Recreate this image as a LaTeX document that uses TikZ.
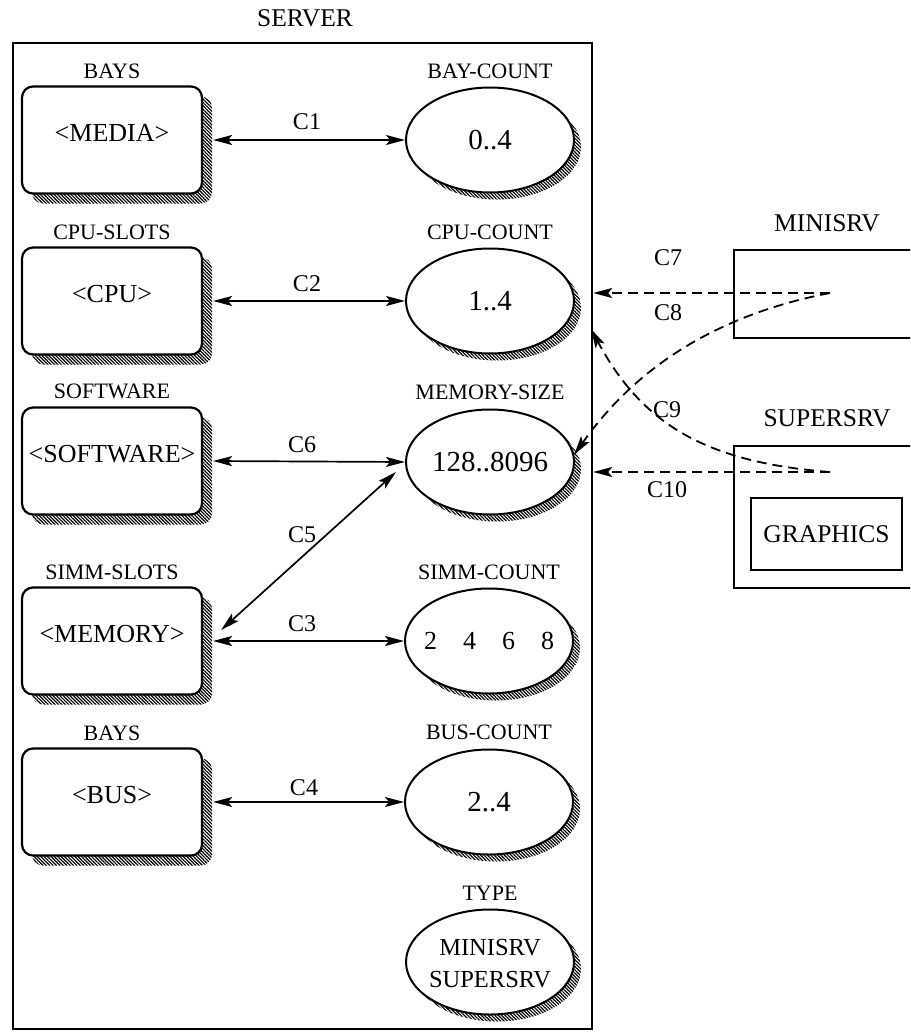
\documentclass[tikz,border=0pt]{standalone}
\usepackage{fontspec}
\setmainfont{Liberation Serif}
\usetikzlibrary{arrows.meta,shapes.geometric,shadows,patterns.meta}
\begin{document}
\begin{tikzpicture}[x=1pt,y=-1pt,
  hatch/.style={general shadow={shadow xshift=#1, shadow yshift=-#1, draw=none,
     pattern={Lines[angle=-45,distance=2.4pt,line width=1.2pt]}, pattern color=black}},
  rbox/.style={draw, line width=2.2pt, fill=white, rounded corners=11pt,
     minimum width=180pt, minimum height=107pt, inner sep=0pt, hatch=10pt},
  oval/.style={ellipse, draw, line width=2pt, fill=white,
     minimum width=168pt, minimum height=105pt, inner sep=0pt, hatch=7pt,
     font=\fontsize{29}{31}\selectfont},
  plainbox/.style={draw, line width=2.2pt, inner sep=0pt, anchor=north west},
  lab/.style={font=\fontsize{22}{24}\selectfont, inner sep=0pt},
  btxt/.style={font=\fontsize{26}{28}\selectfont, inner sep=0pt},
  clab/.style={font=\fontsize{24}{26}\selectfont, inner sep=0pt},
  big/.style={font=\fontsize{25.5}{27}\selectfont, inner sep=0pt},
  biarr/.style={line width=1.7pt, {Stealth[length=19pt,width=10pt,inset=4pt]}-{Stealth[length=19pt,width=10pt,inset=4pt]}},
  dsh/.style={line width=1.8pt, dash pattern=on 10pt off 6pt, -{Stealth[length=19pt,width=10pt,inset=4pt]}}
]
\useasboundingbox (0,0) rectangle (910,1033);
\clip (0,0) rectangle (910,1033);

% server frame
\node[plainbox, minimum width=579pt, minimum height=986pt] (srv) at (12,42) {};
\node[big] (srvt) at (305,18) {SERVER};

% left column boxes
\node[rbox] (b1) at (112,140) {};
\node[rbox] (b2) at (112,301) {};
\node[rbox] (b3) at (112,461) {};
\node[rbox] (b4) at (112,641) {};
\node[rbox] (b5) at (112,802) {};
\node[btxt] (t1) at ([yshift=7pt]b1.center) {<MEDIA>};
\node[btxt] (t2) at ([yshift=7pt]b2.center) {<CPU>};
\node[btxt] (t3) at ([yshift=7pt]b3.center) {<SOFTWARE>};
\node[btxt] (t4) at ([yshift=7pt]b4.center) {<MEMORY>};
\node[btxt] (t5) at ([yshift=7pt]b5.center) {<BUS>};
\node[lab] (l1) at ([yshift=14pt]b1.north) {BAYS};
\node[lab] (l2) at ([yshift=14pt]b2.north) {CPU-SLOTS};
\node[lab] (l3) at ([yshift=15pt]b3.north) {SOFTWARE};
\node[lab] (l4) at ([yshift=14pt]b4.north) {SIMM-SLOTS};
\node[lab] (l5) at ([yshift=14pt]b5.north) {BAYS};

% right column ellipses
\node[oval] (e1) at (490,140) {0..4};
\node[oval] (e2) at (490,301) {1..4};
\node[oval] (e3) at (490,462) {128..8096};
\node[oval] (e4) at (489,641) {};
\node[font=\fontsize{26}{28}\selectfont, inner sep=0pt] (t4e) at (489,641) {2\quad 4\quad 6\quad 8};
\node[oval] (e5) at (489,802) {2..4};
\node[oval] (e6) at (490,962) {};
\node[font=\fontsize{24.5}{32}\selectfont, align=center, inner sep=0pt] (t6) at (490,964) {MINISRV\\SUPERSRV};
\node[lab] (k1) at ([yshift=15pt]e1.north) {BAY-COUNT};
\node[lab] (k2) at ([yshift=15pt]e2.north) {CPU-COUNT};
\node[lab] (k3) at ([yshift=16pt]e3.north) {MEMORY-SIZE};
\node[lab] (k4) at ([yshift=15pt]e4.north) {SIMM-COUNT};
\node[lab] (k5) at ([yshift=16pt]e5.north) {BUS-COUNT};
\node[lab] (k6) at ([yshift=15pt]e6.north) {TYPE};

% solid connectors
\draw[biarr] ([xshift=10pt]b1.east) -- (e1.west);
\draw[biarr] ([xshift=10pt]b2.east) -- (e2.west);
\draw[biarr] ([xshift=10pt]b3.east) -- (e3.west);
\draw[biarr] ([xshift=10pt]b4.east) -- (e4.west);
\draw[biarr] ([xshift=10pt]b5.east) -- (e5.west);
\draw[biarr] ([xshift=18pt,yshift=11pt]b4.east) -- ([xshift=-9pt,yshift=-10pt]e3.west);
\node[clab] (c1) at (307,122) {C1};
\node[clab] (c2) at (307,284) {C2};
\node[clab] (c6) at (302,445) {C6};
\node[clab] (c5) at (302,535) {C5};
\node[clab] (c3) at (302,624) {C3};
\node[clab] (c4) at (304,788) {C4};

% other boxes
\node[plainbox, minimum width=220pt, minimum height=88pt] (mini) at (733,249) {};
\node[big] (minit) at (827,223) {MINISRV};
\node[plainbox, minimum width=220pt, minimum height=142pt] (super) at (733,445) {};
\node[big] (supert) at (827,418) {SUPERSRV};
\node[draw, line width=2.2pt, minimum width=151pt, minimum height=72pt, inner sep=0pt,
      font=\fontsize{25.5}{27}\selectfont] (gfx) at (826.5,534) {GRAPHICS};

% dashed connectors
\coordinate (m1) at (830,293);
\coordinate (s1) at (830,472);
\coordinate (k9) at (591,329);
\draw[dsh] (m1) -- (m1 -| srv.east);
\draw[dsh] (m1) .. controls (690,320) and (620,390) .. (e3.5);
\draw[dsh] (s1) .. controls (700,462) and (640,420) .. (k9);
\draw[dsh] (s1) -- (s1 -| srv.east);
\node[clab] (c7) at (668,258) {C7};
\node[clab] (c8) at (668,313) {C8};
\node[clab] (c9) at (667,410) {C9};
\node[clab] (c10) at (667,490) {C10};
\end{tikzpicture}
\end{document}
